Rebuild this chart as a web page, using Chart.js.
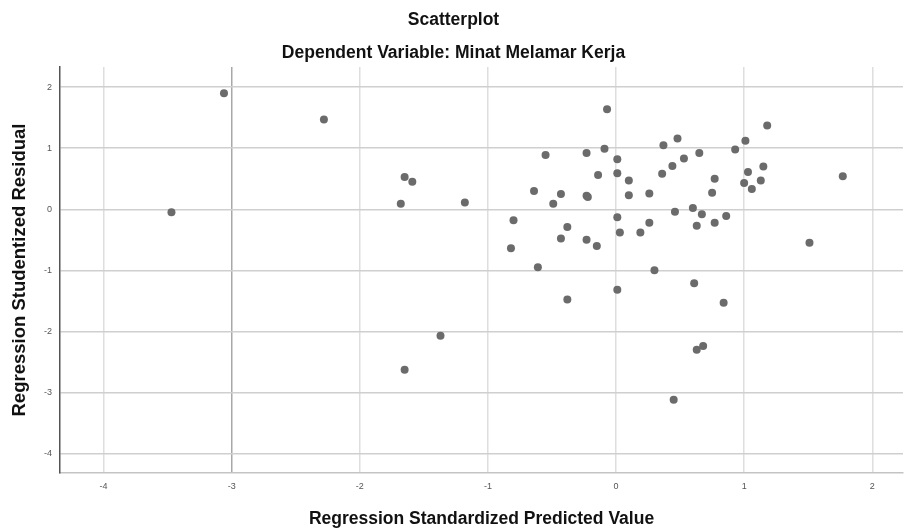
<!DOCTYPE html>
<html>
<head>
<meta charset="utf-8">
<script src="https://cdn.jsdelivr.net/npm/chart.js@4/dist/chart.umd.min.js"></script>
<style>
  html, body { margin: 0; padding: 0; background: #fff; }
  #wrap { width: 907px; height: 532px; }
</style>
</head>
<body>
<div id="wrap"><canvas id="scatterChart"></canvas></div>
<script>
const predicted = [
  -3.47, -3.06, -2.28, -1.65, -1.59, -1.68, -1.18, -1.65, -1.37,
  -0.80, -0.82, -0.64, -0.61, -0.55, -0.49, -0.43, -0.43, -0.38, -0.38,
  -0.23, -0.22, -0.23, -0.23, -0.15, -0.14, -0.09, -0.07,
  0.01, 0.01, 0.01, 0.03, 0.01, 0.10, 0.10, 0.19, 0.26, 0.26, 0.30,
  0.36, 0.37, 0.44, 0.45, 0.46, 0.48, 0.53, 0.60, 0.61, 0.63, 0.63, 0.65,
  0.67, 0.68, 0.75, 0.77, 0.77, 0.84, 0.86, 0.93, 1.00, 1.01, 1.03,
  1.06, 1.13, 1.15, 1.18, 1.51, 1.77
];
const residual = [
  -0.05, 1.90, 1.47, 0.53, 0.45, 0.09, 0.11, -2.63, -2.07,
  -0.18, -0.64, 0.30, -0.95, 0.89, 0.09, 0.25, -0.48, -0.29, -1.48,
  0.92, 0.20, 0.22, -0.50, -0.60, 0.56, 0.99, 1.64,
  0.82, 0.59, -0.13, -0.38, -1.32, 0.47, 0.23, -0.38, 0.26, -0.22, -1.00,
  0.58, 1.05, 0.71, -3.12, -0.04, 1.16, 0.83, 0.02, -1.21, -0.27, -2.30, 0.92,
  -0.08, -2.24, 0.27, 0.50, -0.22, -1.53, -0.11, 0.98, 0.43, 1.12, 0.61,
  0.33, 0.47, 0.70, 1.37, -0.55, 0.54
];
const xTicks = [-4, -3, -2, -1, 0, 1, 2];
const yTicks = [-4, -3, -2, -1, 0, 1, 2];

const points = predicted.map((x, i) => ({ x, y: residual[i] }));
const fontFamily = "'Liberation Sans', Arial, sans-serif";

new Chart(document.getElementById('scatterChart'), {
  type: 'scatter',
  data: {
    datasets: [{
      data: points,
      backgroundColor: '#6b6b6b',
      borderWidth: 0,
      pointRadius: 4,
      pointHoverRadius: 4
    }]
  },
  options: {
    responsive: true,
    maintainAspectRatio: false,
    animation: false,
    layout: { padding: 0 },
    plugins: {
      legend: { display: false },
      tooltip: { enabled: false },
      title: {
        display: true,
        text: 'Scatterplot',
        color: '#111',
        font: { family: fontFamily, size: 17.5, weight: 'bold' },
        padding: { top: 10, bottom: 10 }
      },
      subtitle: {
        display: true,
        text: 'Dependent Variable: Minat Melamar Kerja',
        color: '#111',
        font: { family: fontFamily, size: 17.5, weight: 'bold' },
        padding: { top: 2, bottom: 3 }
      }
    },
    scales: {
      x: {
        type: 'linear',
        min: -4.34,
        max: 2.24,
        afterBuildTicks: s => { s.ticks = xTicks.map(v => ({ value: v })); },
        afterFit: s => { s.height = 59; },
        ticks: {
          includeBounds: false,
          color: '#555',
          font: { family: fontFamily, size: 9 },
          padding: 8
        },
        grid: {
          drawTicks: false,
          color: c => (c.tick && c.tick.value === -3) ? '#a8a8a8' : '#dedede',
          lineWidth: 1.5
        },
        border: { display: true, color: '#c4c4c4', width: 1.5 },
        title: {
          display: true,
          text: 'Regression Standardized Predicted Value',
          color: '#111',
          font: { family: fontFamily, size: 17.5, weight: 'bold' },
          padding: { top: 10, bottom: 2 }
        }
      },
      y: {
        type: 'linear',
        min: -4.32,
        max: 2.33,
        afterBuildTicks: s => { s.ticks = yTicks.map(v => ({ value: v })); },
        afterFit: s => { s.width = 60; },
        ticks: {
          includeBounds: false,
          color: '#555',
          font: { family: fontFamily, size: 9 },
          padding: 8
        },
        grid: {
          drawTicks: false,
          color: '#cfcfcf',
          lineWidth: 1.5
        },
        border: { display: true, color: '#555', width: 1.5 },
        title: {
          display: true,
          text: 'Regression Studentized Residual',
          color: '#111',
          font: { family: fontFamily, size: 18.5, weight: 'bold' },
          padding: { top: 9, bottom: 10 }
        }
      }
    }
  }
});
</script>
</body>
</html>
